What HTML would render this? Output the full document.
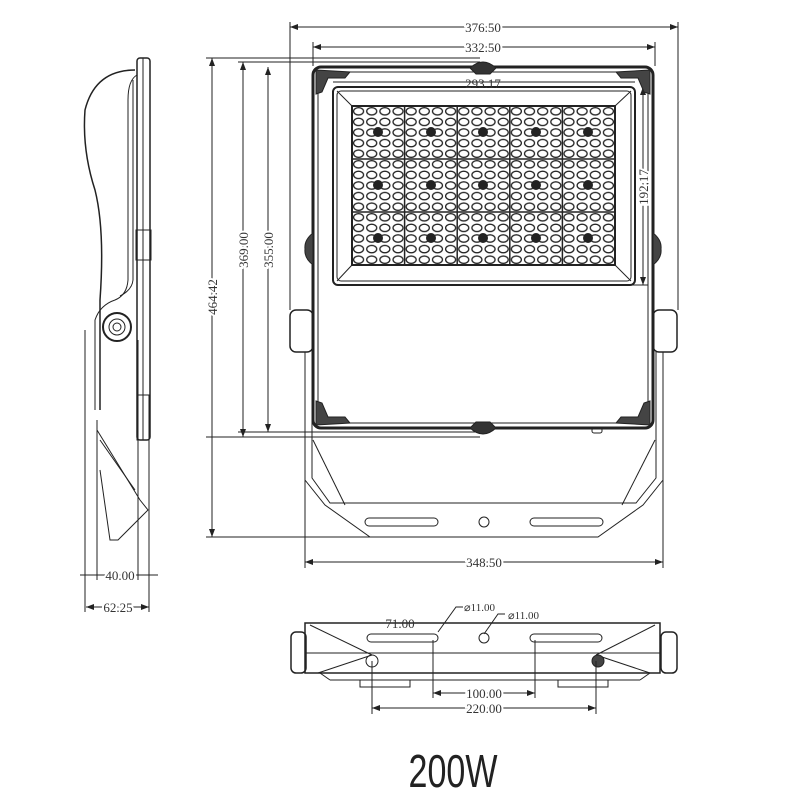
<!DOCTYPE html>
<html><head><meta charset="utf-8"><style>
html,body{margin:0;padding:0;background:#fff;}
svg{display:block}
text{font-family:"Liberation Serif",serif;font-size:13px;fill:#333}
</style></head><body>
<svg width="800" height="800" viewBox="0 0 800 800" xmlns="http://www.w3.org/2000/svg">
<defs>
<pattern id="led" x="352" y="106" width="13.15" height="10.6" patternUnits="userSpaceOnUse">
<ellipse cx="6.57" cy="5.3" rx="5" ry="3.7" fill="none" stroke="#222" stroke-width="1.3"/>
</pattern>
<marker id="a" markerWidth="8" markerHeight="6" refX="8" refY="3" orient="auto-start-reverse"><path d="M0,0 L8,3 L0,6z" fill="#222"/></marker>
</defs>
<g stroke="#222" fill="none" stroke-width="1">
<line x1="290" y1="27" x2="678" y2="27" marker-start="url(#a)" marker-end="url(#a)"/>
<line x1="290" y1="22" x2="290" y2="310"/>
<line x1="678" y1="22" x2="678" y2="310"/>
<line x1="313" y1="47" x2="655" y2="47" marker-start="url(#a)" marker-end="url(#a)"/>
<line x1="313" y1="42" x2="313" y2="66"/>
<line x1="655" y1="42" x2="655" y2="66"/>
<line x1="333" y1="82" x2="635" y2="82"/>
<line x1="206" y1="58" x2="480" y2="58"/>
<line x1="238" y1="62" x2="480" y2="62"/>
<line x1="238" y1="432" x2="480" y2="432"/>
<line x1="206" y1="437" x2="480" y2="437"/>
<line x1="206" y1="537" x2="370" y2="537"/>
<line x1="212" y1="58" x2="212" y2="537" marker-start="url(#a)" marker-end="url(#a)"/>
<line x1="243" y1="62" x2="243" y2="437" marker-start="url(#a)" marker-end="url(#a)"/>
<line x1="268" y1="67" x2="268" y2="432" marker-start="url(#a)" marker-end="url(#a)"/>
<line x1="643" y1="87" x2="643" y2="285" marker-start="url(#a)" marker-end="url(#a)"/>
<line x1="630" y1="285" x2="648" y2="285"/>
<rect x="313" y="67" width="340" height="361" rx="8" stroke-width="3"/>
<rect x="318" y="72" width="330" height="351" rx="6" stroke-width="1"/>
<rect x="333" y="87" width="302" height="198" rx="5" stroke-width="2"/>
<rect x="337" y="91" width="294" height="190" rx="4"/>
<line x1="337" y1="91" x2="352" y2="106"/><line x1="631" y1="91" x2="615" y2="106"/>
<line x1="337" y1="281" x2="352" y2="265"/><line x1="631" y1="281" x2="615" y2="265"/>
<rect x="352" y="106" width="263" height="159" fill="url(#led)" stroke-width="2"/>
<g stroke-width="1.5">
<line x1="404.6" y1="106" x2="404.6" y2="265"/><line x1="457.2" y1="106" x2="457.2" y2="265"/>
<line x1="509.8" y1="106" x2="509.8" y2="265"/><line x1="562.4" y1="106" x2="562.4" y2="265"/>
<line x1="352" y1="159" x2="615" y2="159"/><line x1="352" y1="212" x2="615" y2="212"/>
</g>
<path d="M470,68 Q483,56 496,68 L490,74 L476,74z" fill="#333"/>
<path d="M470,428 Q483,440 496,428 L490,422 L476,422z" fill="#333"/>
<path d="M316,70 L350,72 L345,78 L328,78 L322,92 L316,94z" fill="#444"/>
<path d="M650,70 L616,72 L621,78 L638,78 L644,92 L650,94z" fill="#444"/>
<path d="M316,425 L350,423 L345,417 L328,417 L322,403 L316,401z" fill="#444"/>
<path d="M650,425 L616,423 L621,417 L638,417 L644,403 L650,401z" fill="#444"/>
<path d="M313,233 Q304,240 305,249 Q304,258 313,265z" fill="#444"/>
<path d="M653,233 Q662,240 661,249 Q662,258 653,265z" fill="#444"/>
<rect x="592" y="428" width="10" height="5" rx="2"/>
<rect x="290" y="310" width="23" height="42" rx="6" stroke-width="1.5"/>
<rect x="653" y="310" width="24" height="42" rx="6" stroke-width="1.5"/>
<path d="M305,352 L305,480 L325,505 L370,537 L598,537 L643,505 L663,480 L663,352"/>
<path d="M312,352 L312,478 L330,503 L636,503 L656,478 L656,352"/>
<line x1="313" y1="440" x2="345" y2="505"/><line x1="655" y1="440" x2="622" y2="505"/>
<rect x="365" y="518" width="73" height="8" rx="4"/>
<rect x="530" y="518" width="73" height="8" rx="4"/>
<circle cx="484" cy="522" r="5"/>
<line x1="305" y1="562" x2="663" y2="562" marker-start="url(#a)" marker-end="url(#a)"/>
<line x1="305" y1="480" x2="305" y2="568"/>
<line x1="663" y1="480" x2="663" y2="568"/>
<rect x="137" y="58" width="13" height="382" rx="3" stroke-width="1.5"/>
<line x1="143" y1="58" x2="143" y2="440"/>
<path d="M135,70 Q95,70 85,110 Q82,150 95,190 Q105,230 100,300 L100,410" stroke-width="1.5"/>
<path d="M137,75 Q128,80 128,100 L128,280 Q127,295 115,300 Q100,305 95,320 L95,410"/>
<path d="M133,80 L133,280 Q132,290 120,296"/>
<circle cx="117" cy="327" r="14" stroke-width="2"/>
<circle cx="117" cy="327" r="8"/>
<circle cx="117" cy="327" r="4"/>
<rect x="136" y="230" width="15" height="30"/>
<rect x="137" y="395" width="12" height="45"/>
<line x1="85" y1="330" x2="85" y2="612"/>
<line x1="97" y1="420" x2="97" y2="580"/>
<line x1="138" y1="340" x2="138" y2="580"/>
<line x1="149" y1="440" x2="149" y2="612"/>
<path d="M97,430 L140,500 L148,510 L118,540 L110,540 L100,470"/>
<path d="M100,440 L135,490"/>
<line x1="80" y1="575" x2="158" y2="575"/>
<line x1="86" y1="607" x2="149" y2="607" marker-start="url(#a)" marker-end="url(#a)"/>
<path d="M305,623 L660,623 L660,673 L305,673z" stroke-width="1.5"/>
<rect x="291" y="632" width="15" height="41" rx="5" stroke-width="1.5"/>
<rect x="661" y="632" width="16" height="41" rx="5" stroke-width="1.5"/>
<line x1="305" y1="653" x2="660" y2="653"/>
<line x1="310" y1="625" x2="372" y2="655"/><line x1="372" y1="655" x2="318" y2="673"/>
<line x1="655" y1="625" x2="596" y2="655"/><line x1="596" y1="655" x2="650" y2="673"/>
<rect x="367" y="634" width="71" height="8" rx="4"/>
<rect x="530" y="634" width="72" height="8" rx="4"/>
<circle cx="484" cy="638" r="5"/>
<circle cx="372" cy="661" r="6"/><circle cx="598" cy="661" r="6" fill="#444"/>
<line x1="330" y1="680" x2="640" y2="680"/>
<line x1="320" y1="673" x2="330" y2="680"/><line x1="650" y1="673" x2="640" y2="680"/>
<rect x="360" y="680" width="50" height="7"/><rect x="558" y="680" width="50" height="7"/>
<line x1="433" y1="640" x2="433" y2="698"/><line x1="535" y1="640" x2="535" y2="698"/>
<line x1="372" y1="661" x2="372" y2="714"/><line x1="596" y1="661" x2="596" y2="714"/>
<line x1="433" y1="693" x2="535" y2="693" marker-start="url(#a)" marker-end="url(#a)"/>
<line x1="372" y1="708" x2="596" y2="708" marker-start="url(#a)" marker-end="url(#a)"/>
<path d="M438,632 L456,607 L463,607"/>
<path d="M484,634 L498,614 L505,614"/>
</g>
<g fill="#222">
<circle cx="378" cy="132" r="5"/><circle cx="431" cy="132" r="5"/><circle cx="483" cy="132" r="5"/><circle cx="536" cy="132" r="5"/><circle cx="588" cy="132" r="5"/>
<circle cx="378" cy="185" r="5"/><circle cx="431" cy="185" r="5"/><circle cx="483" cy="185" r="5"/><circle cx="536" cy="185" r="5"/><circle cx="588" cy="185" r="5"/>
<circle cx="378" cy="238" r="5"/><circle cx="431" cy="238" r="5"/><circle cx="483" cy="238" r="5"/><circle cx="536" cy="238" r="5"/><circle cx="588" cy="238" r="5"/>
</g>
<g text-anchor="middle">
<text x="483" y="32" style="paint-order:stroke" stroke="#fff" stroke-width="4">376.50</text>
<text x="483" y="52" style="paint-order:stroke" stroke="#fff" stroke-width="4">332.50</text>
<text x="483" y="88">293.17</text>
<text x="484" y="567" style="paint-order:stroke" stroke="#fff" stroke-width="4">348.50</text>
<text x="120" y="580" style="paint-order:stroke" stroke="#fff" stroke-width="4">40.00</text>
<text x="118" y="612" style="paint-order:stroke" stroke="#fff" stroke-width="4">62.25</text>
<text x="400" y="628">71.00</text>
<text x="484" y="698" style="paint-order:stroke" stroke="#fff" stroke-width="4">100.00</text>
<text x="484" y="713" style="paint-order:stroke" stroke="#fff" stroke-width="4">220.00</text>
<text x="217" y="297" transform="rotate(-90 217 297)" style="paint-order:stroke" stroke="#fff" stroke-width="4">464.42</text>
<text x="248" y="250" transform="rotate(-90 248 250)" style="paint-order:stroke" stroke="#fff" stroke-width="4">369.00</text>
<text x="273" y="250" transform="rotate(-90 273 250)" style="paint-order:stroke" stroke="#fff" stroke-width="4">355.00</text>
<text x="648" y="187" transform="rotate(-90 648 187)" style="paint-order:stroke" stroke="#fff" stroke-width="4">192.17</text>
</g>
<text x="464" y="611" style="font-size:11px">⌀11.00</text>
<text x="508" y="619" style="font-size:11px">⌀11.00</text>
<text x="0" y="0" text-anchor="middle" transform="translate(453 787) scale(0.74 1)" style="font-family:'Liberation Sans',sans-serif;font-size:46px;fill:#222">200W</text>
</svg>
</body></html>
